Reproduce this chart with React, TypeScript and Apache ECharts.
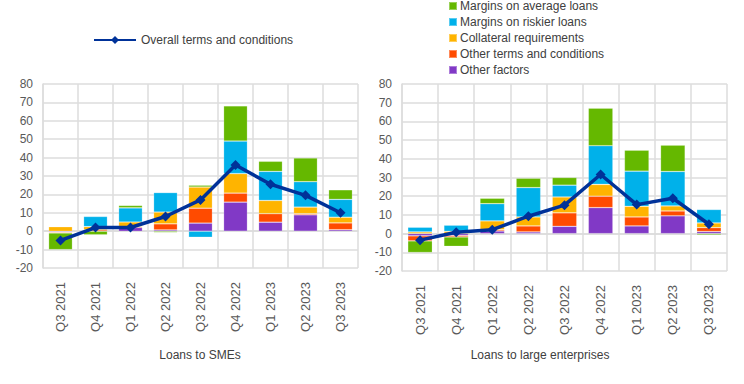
import React, { useEffect, useRef } from "react";
import * as echarts from "echarts";

const categories = ["Q3 2021", "Q4 2021", "Q1 2022", "Q2 2022", "Q3 2022", "Q4 2022", "Q1 2023", "Q2 2023", "Q3 2023"];
const yTicks = { min: -20, max: 80, interval: 10 };

// Loans to SMEs
const smeOtherFactors = [-0.5, 0, 2.0, 0.7, 4.4, 15.8, 4.9, 8.9, 0.8];
const smeOtherTerms = [-0.5, 0.7, 0.5, 3.3, 8.1, 4.9, 4.6, 0.6, 3.7];
const smeCollateral = [2.5, 1.8, 2.5, 6.4, 11.5, 10.6, 7.2, 3.6, 3.1];
const smeRiskier = [0, 5.5, 7.7, 10.6, -3.3, 17.7, 15.8, 13.8, 9.7];
const smeAverage = [-9, -2.0, 1.3, -0.7, 1.0, 19.1, 5.5, 12.9, 5.2];
const smeOverall = [-5, 2, 2, 8, 17, 36, 25.5, 19.5, 10];

// Loans to large enterprises
const largeOtherFactors = [-1.2, -1.0, 1.4, 0.9, 3.9, 13.9, 4.1, 9.5, 1.1];
const largeOtherTerms = [-2.7, -0.8, 0.7, 3.2, 7.2, 6.1, 4.8, 2.6, 2.1];
const largeCollateral = [0.9, 1.2, 4.7, 4.8, 8.5, 6.3, 5.7, 2.7, 2.5];
const largeRiskier = [2.5, 3.3, 9.2, 15.7, 6.3, 20.7, 18.8, 18.4, 7.2];
const largeAverage = [-6.2, -5.0, 2.9, 5.0, 4.1, 20.1, 11.2, 14.1, -0.7];
const largeOverall = [-3.5, 0.7, 2.1, 9.3, 15.2, 31.6, 15.5, 18.9, 5];

const names = {
  average: "Margins on average loans",
  riskier: "Margins on riskier loans",
  collateral: "Collateral requirements",
  otherTerms: "Other terms and conditions",
  otherFactors: "Other factors",
  overall: "Overall terms and conditions",
};

const colors = {
  average: "#65B800",
  riskier: "#00B1EA",
  collateral: "#FFB400",
  otherTerms: "#FF4B00",
  otherFactors: "#8139C6",
  overall: "#003299",
};

const FONT = "'Liberation Sans', Arial, sans-serif";
const GRID_COLOR = "#dcdcdc";
const TEXT_COLOR = "#595959";

function barSeries(name: string, color: string, data: number[], idx: number) {
  return {
    name,
    type: "bar",
    stack: "s" + idx,
    xAxisIndex: idx,
    yAxisIndex: idx,
    barWidth: "68%",
    data,
    itemStyle: { color, borderColor: "rgba(255,255,255,0.35)", borderWidth: 0.6 },
  };
}

function lineSeries(data: number[], idx: number) {
  return {
    name: names.overall,
    type: "line",
    xAxisIndex: idx,
    yAxisIndex: idx,
    data,
    z: 10,
    symbol: "diamond",
    symbolSize: 10,
    lineStyle: { color: colors.overall, width: 3.5 },
    itemStyle: { color: colors.overall },
  };
}

export default function App() {
  const ref = useRef<HTMLDivElement>(null);
  useEffect(() => {
    if (!ref.current) return;
    const chart = echarts.init(ref.current, undefined, { renderer: "svg" });
    const xAxis = (gi: number) => ({
      type: "category",
      gridIndex: gi,
      data: categories,
      boundaryGap: true,
      axisTick: { show: false },
      axisLine: { show: true, lineStyle: { color: GRID_COLOR, width: 1.5 } },
      splitLine: { show: true, lineStyle: { color: GRID_COLOR, width: 1.5 } },
      axisLabel: { rotate: 90, color: TEXT_COLOR, fontFamily: FONT, fontSize: 13, margin: 14, interval: 0 },
    });
    const yAxis = (gi: number) => ({
      type: "value",
      gridIndex: gi,
      min: yTicks.min,
      max: yTicks.max,
      interval: yTicks.interval,
      axisLine: { show: true, lineStyle: { color: GRID_COLOR, width: 1.5 } },
      axisTick: { show: false },
      splitLine: { show: true, lineStyle: { color: GRID_COLOR, width: 1.5 } },
      axisLabel: { color: TEXT_COLOR, fontFamily: FONT, fontSize: 12, margin: 10 },
    });
    const option = {
      animation: false,
      grid: [
        { left: 43, top: 84, width: 315, height: 184 },
        { left: 402, top: 84, width: 325, height: 187 },
      ],
      xAxis: [xAxis(0), xAxis(1)],
      yAxis: [yAxis(0), yAxis(1)],
      legend: [
        {
          data: [names.overall],
          left: 93,
          top: 34,
          padding: 0,
          itemWidth: 42,
          itemHeight: 10,
          textStyle: { color: "#404040", fontFamily: FONT, fontSize: 12 },
        },
        {
          data: [names.average, names.riskier, names.collateral, names.otherTerms, names.otherFactors],
          orient: "vertical",
          left: 448,
          top: 0,
          padding: 0,
          itemGap: 4,
          itemWidth: 8,
          itemHeight: 8,
          icon: "rect",
          textStyle: { color: "#404040", fontFamily: FONT, fontSize: 12, padding: [0, 0, 0, -2] },
        },
      ],
      graphic: [
        { type: "text", x: 200, y: 349, style: { text: "Loans to SMEs", fill: "#404040", font: "12px " + FONT, textAlign: "center" } },
        { type: "text", x: 540, y: 349, style: { text: "Loans to large enterprises", fill: "#404040", font: "12px " + FONT, textAlign: "center" } },
      ],
      series: [
        barSeries(names.otherFactors, colors.otherFactors, smeOtherFactors, 0),
        barSeries(names.otherTerms, colors.otherTerms, smeOtherTerms, 0),
        barSeries(names.collateral, colors.collateral, smeCollateral, 0),
        barSeries(names.riskier, colors.riskier, smeRiskier, 0),
        barSeries(names.average, colors.average, smeAverage, 0),
        lineSeries(smeOverall, 0),
        barSeries(names.otherFactors, colors.otherFactors, largeOtherFactors, 1),
        barSeries(names.otherTerms, colors.otherTerms, largeOtherTerms, 1),
        barSeries(names.collateral, colors.collateral, largeCollateral, 1),
        barSeries(names.riskier, colors.riskier, largeRiskier, 1),
        barSeries(names.average, colors.average, largeAverage, 1),
        lineSeries(largeOverall, 1),
      ],
    };
    chart.setOption(option as any);
    return () => chart.dispose();
  }, []);
  return (
    <div
      ref={ref}
      style={{ position: "absolute", left: 0, top: 0, width: 744, height: 384, background: "#fff" }}
    />
  );
}
